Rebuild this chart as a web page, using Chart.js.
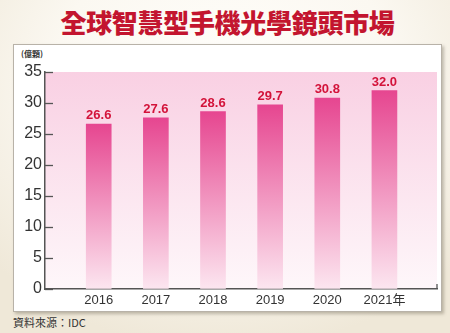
<!DOCTYPE html>
<html>
<head>
<meta charset="utf-8">
<script src="https://cdn.jsdelivr.net/npm/chart.js@4/dist/chart.umd.min.js"></script>
<style>
  html, body { margin: 0; padding: 0; }
  body {
    width: 450px; height: 333px; position: relative; overflow: hidden;
    background: radial-gradient(ellipse 70% 80% at 50% 25%, #fffefb 0%, #fbf8f1 55%, #efe8d8 100%);
    font-family: "Liberation Sans", Arial, sans-serif;
  }
  #title {
    position: absolute; left: 0; top: 6px; width: 455px; text-align: center;
    font-family: "Noto Sans CJK TC", sans-serif; font-weight: 900;
    font-size: 26px; line-height: 32px; color: #c3152f; letter-spacing: -0.3px;
  }
  #panel {
    position: absolute; left: 13px; top: 44px; width: 427px; height: 266px;
    background: #fff; border: 1px solid #b8b2a8;
    box-shadow: 2px 2px 3px rgba(90, 80, 60, 0.35);
  }
  #unit {
    position: absolute; left: 21px; top: 48px;
    font-family: "Noto Sans CJK TC", sans-serif; font-size: 8px; font-weight: bold; color: #333;
  }
  #source {
    position: absolute; left: 13px; top: 314px;
    font-family: "Noto Sans CJK TC", sans-serif; font-size: 11px; color: #333;
  }
  canvas { position: absolute; left: 0; top: 0; }
</style>
</head>
<body>
<div id="title">全球智慧型手機光學鏡頭市場</div>
<div id="panel"></div>
<div id="unit">(億顆)</div>
<div id="source">資料來源：IDC</div>
<canvas id="lensChart" width="450" height="333"></canvas>

<script>
// 市場規模（億顆）
const years = ["2016", "2017", "2018", "2019", "2020", "2021年"]
const values = [26.6, 27.6, 28.6, 29.7, 30.8, 32.0]
const yTicks = [0, 5, 10, 15, 20, 25, 30, 35]

const axisColor = "#555"

// pink plot background
const plotBackground = {
    id: "plotBackground",
    beforeDraw(chart) {
        const { ctx, chartArea } = chart
        const g = ctx.createLinearGradient(0, chartArea.top, 0, chartArea.bottom)
        g.addColorStop(0, "#f9d0e3")
        g.addColorStop(1, "#fef7fa")
        ctx.save()
        ctx.fillStyle = g
        ctx.fillRect(chartArea.left, chartArea.top, chartArea.right - chartArea.left, chartArea.bottom - chartArea.top)
        ctx.restore()
    }
}

// inward tick marks + value labels
const extras = {
    id: "extras",
    afterDraw(chart) {
        const { ctx, chartArea } = chart
        const y = chart.scales.y
        ctx.save()
        ctx.strokeStyle = axisColor
        ctx.lineWidth = 1.3
        yTicks.forEach(v => {
            const py = Math.round(y.getPixelForValue(v)) + 0.5
            ctx.beginPath()
            ctx.moveTo(chartArea.left, py)
            ctx.lineTo(chartArea.left + 8, py)
            ctx.stroke()
        })
        ctx.beginPath()
        ctx.moveTo(chartArea.right, chartArea.bottom)
        ctx.lineTo(chartArea.right, chartArea.bottom - 5)
        ctx.stroke()

        const meta = chart.getDatasetMeta(0)
        ctx.fillStyle = "#d3133a"
        ctx.font = "bold 13px 'Liberation Sans', Arial, sans-serif"
        ctx.textAlign = "center"
        ctx.textBaseline = "bottom"
        meta.data.forEach((bar, i) => {
            ctx.fillText(values[i].toFixed(1), bar.x, bar.y - 2)
        })
        ctx.restore()
    }
}

function barGradient(c) {
    const chart = c.chart
    if (!chart.chartArea || !c.raw) return "#e64690"
    const top = chart.scales.y.getPixelForValue(c.raw.y)
    const bottom = chart.scales.y.getPixelForValue(0)
    const g = chart.ctx.createLinearGradient(0, top, 0, bottom)
    g.addColorStop(0, "#e64690")
    g.addColorStop(1, "#fce6f0")
    return g
}

new Chart(document.getElementById("lensChart"), {
    type: "bar",
    data: {
        datasets: [{
            data: values.map((v, i) => ({ x: i, y: v })),
            backgroundColor: barGradient,
            barThickness: 25,
            borderWidth: 0
        }]
    },
    options: {
        responsive: false,
        animation: false,
        layout: { padding: { left: 0, right: 13, top: 72, bottom: 0 } },
        plugins: {
            legend: { display: false },
            tooltip: { enabled: false }
        },
        scales: {
            x: {
                type: "linear",
                offset: false,
                min: -0.94,
                max: 5.92,
                afterBuildTicks(scale) {
                    scale.ticks = years.map((_, i) => ({ value: i }))
                },
                afterFit(scale) { scale.height = 44 },
                grid: { offset: false, drawOnChartArea: false, drawTicks: false },
                border: { display: true, color: axisColor, width: 1.5 },
                ticks: {
                    padding: 4,
                    color: "#333",
                    font: { family: "'Liberation Sans', 'Noto Sans CJK TC', sans-serif", size: 13 },
                    callback: v => years[v]
                }
            },
            y: {
                min: 0,
                max: 35,
                afterBuildTicks(scale) {
                    scale.ticks = yTicks.map(v => ({ value: v }))
                },
                afterFit(scale) { scale.width = 45 },
                grid: { drawOnChartArea: false, drawTicks: false },
                border: { display: true, color: axisColor, width: 1.5 },
                ticks: {
                    padding: 3,
                    color: "#333",
                    font: { family: "'Liberation Sans', Arial, sans-serif", size: 16 }
                }
            }
        }
    },
    plugins: [plotBackground, extras]
})
</script>
</body>
</html>
